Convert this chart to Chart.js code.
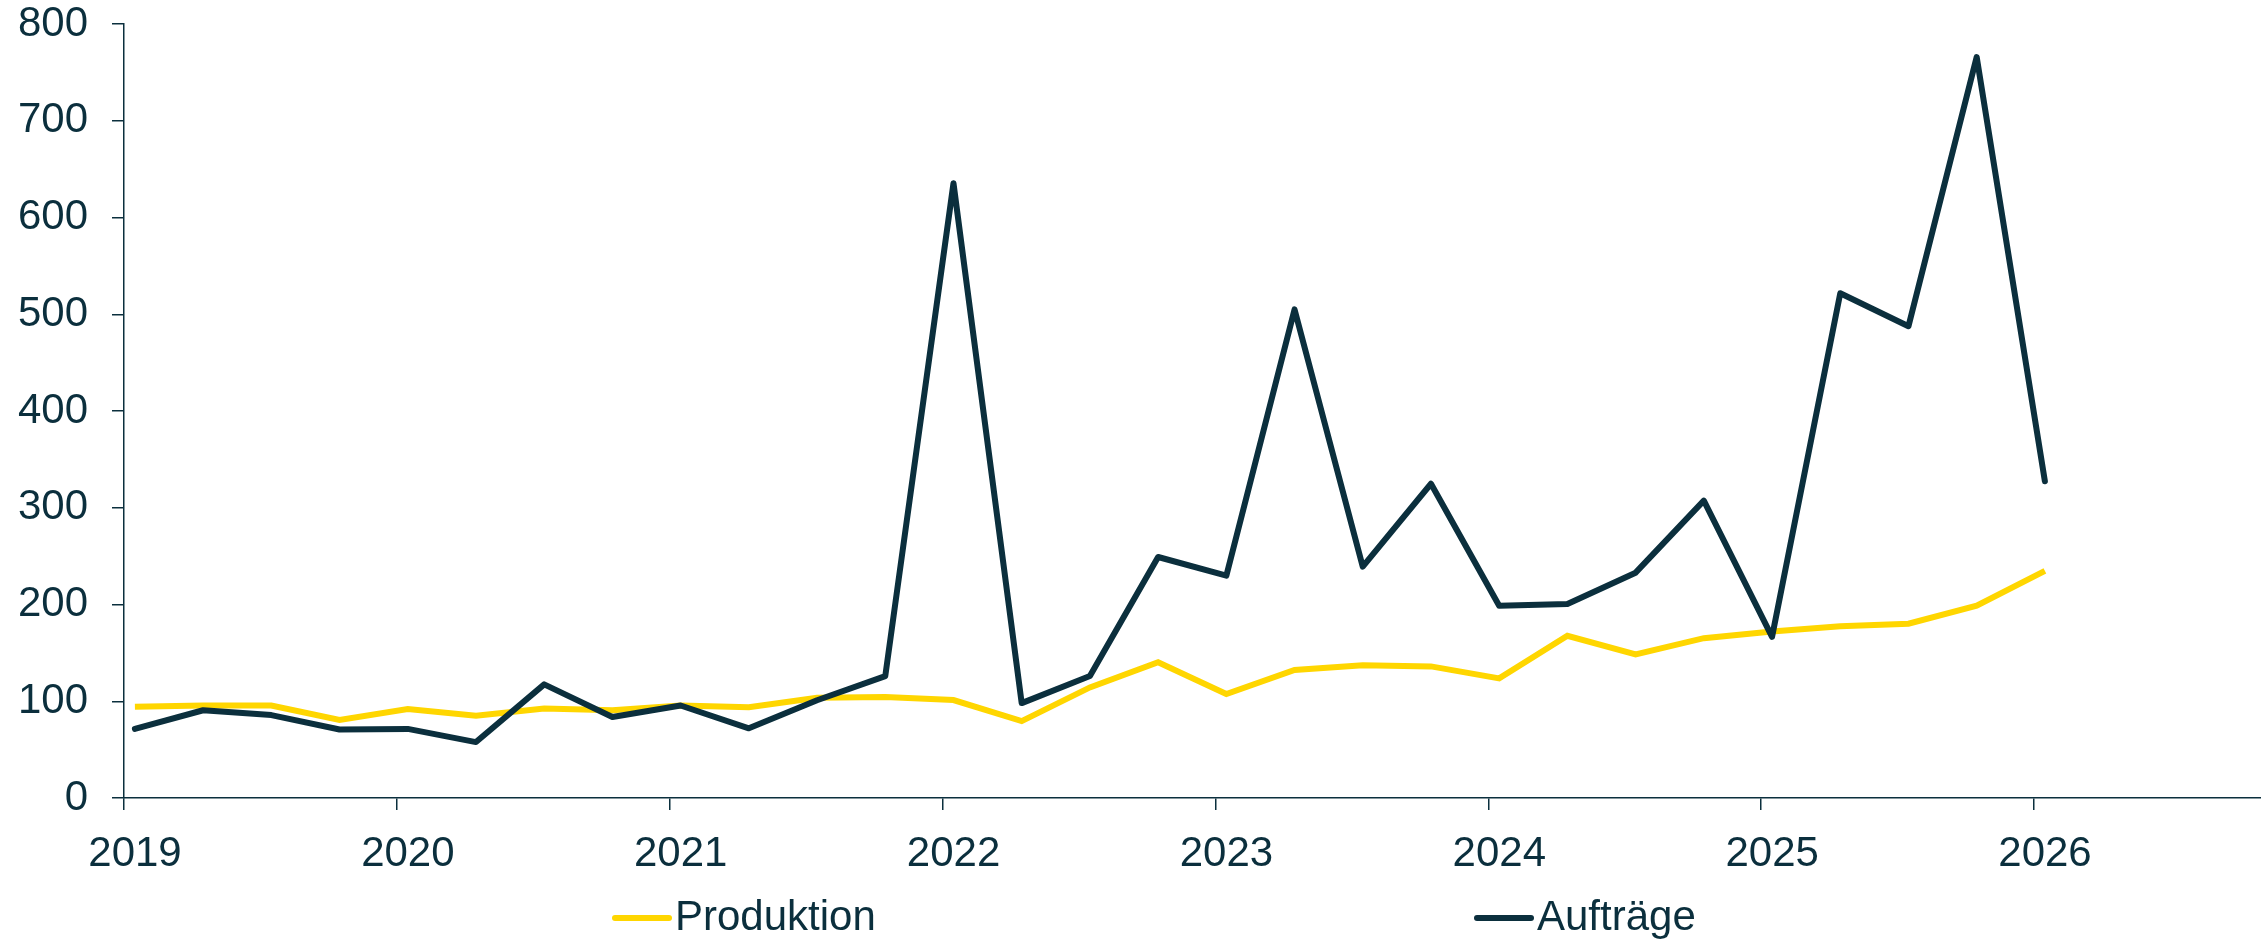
<!DOCTYPE html>
<html>
<head>
<meta charset="utf-8">
<script src="https://cdn.jsdelivr.net/npm/chart.js@4.4.1/dist/chart.umd.min.js"></script>
<style>
  html, body { margin: 0; padding: 0; background: #fff; }
  #wrap { width: 2261px; height: 941px; position: relative; }
</style>
</head>
<body>
<div id="wrap"><canvas id="canvas"></canvas></div>
<script>
// quarterly values, first quarter 2019 to first quarter 2026
var quarters = [
  '2019 Q1', '2019 Q2', '2019 Q3', '2019 Q4',
  '2020 Q1', '2020 Q2', '2020 Q3', '2020 Q4',
  '2021 Q1', '2021 Q2', '2021 Q3', '2021 Q4',
  '2022 Q1', '2022 Q2', '2022 Q3', '2022 Q4',
  '2023 Q1', '2023 Q2', '2023 Q3', '2023 Q4',
  '2024 Q1', '2024 Q2', '2024 Q3', '2024 Q4',
  '2025 Q1', '2025 Q2', '2025 Q3', '2025 Q4',
  '2026 Q1'
];
var produktion = [
  94.4, 95.6, 95.6, 80.7,
  91.9, 85.1, 92.5, 90.7,
  95.6, 93.8, 103.5, 104.3,
  101.2, 79.5, 114.3, 140.4,
  107.5, 132.3, 137.3, 136.0,
  123.6, 167.7, 148.4, 165.2,
  172.0, 177.6, 180.1, 198.8,
  234.8
];
var auftraege = [
  71.4, 90.7, 85.7, 70.8,
  71.4, 57.8, 117.4, 83.8,
  95.6, 72.0, 101.0, 126.0,
  635.4, 98.1, 126.1, 249.1,
  229.8, 505.0, 239.1, 324.8,
  198.8, 200.6, 232.9, 307.4,
  166.5, 521.7, 487.6, 765.8,
  327.3
];
var yearTicks = [2019, 2020, 2021, 2022, 2023, 2024, 2025, 2026];
var yTicks = [0, 100, 200, 300, 400, 500, 600, 700, 800];

var dark = '#0b2f3d';
var yellow = '#ffd600';
var font = "'Liberation Sans', Arial, sans-serif";

// quarter label -> decimal year (middle of the quarter's first month)
function toX(label) {
  var p = label.split(' Q');
  return Number(p[0]) + (Number(p[1]) - 1) / 4 + 0.04;
}

function points(values) {
  return values.map(function(v, i) { return {x: toX(quarters[i]), y: v}; });
}

var legendPlugin = {
  id: 'bottomLegend',
  afterDraw: function(chart, args, opts) {
    var ctx = chart.ctx;
    ctx.save();
    chart.data.datasets.forEach(function(ds, i) {
      var x = opts.xs[i];
      ctx.strokeStyle = ds.borderColor;
      ctx.lineWidth = 6;
      ctx.lineCap = 'round';
      ctx.beginPath();
      ctx.moveTo(x, opts.y);
      ctx.lineTo(x + 54, opts.y);
      ctx.stroke();
      ctx.fillStyle = dark;
      ctx.font = '42px ' + font;
      ctx.textBaseline = 'alphabetic';
      ctx.fillText(ds.label, x + 60, opts.y + 12);
    });
    ctx.restore();
  }
};

var ctx = document.getElementById('canvas').getContext('2d');

var lineChartData = {
  datasets: [{
    label: 'Produktion',
    data: points(produktion),
    borderColor: yellow,
    backgroundColor: yellow,
    borderWidth: 6,
    pointRadius: 0,
    tension: 0,
    fill: false,
    order: 1
  }, {
    label: 'Aufträge',
    data: points(auftraege),
    borderColor: dark,
    backgroundColor: dark,
    borderWidth: 6,
    pointRadius: 0,
    tension: 0,
    fill: false,
    borderCapStyle: 'round',
    borderJoinStyle: 'round',
    order: 0
  }]
};

var lineChartOptions = {
  responsive: true,
  maintainAspectRatio: false,
  animation: false,
  layout: { padding: { top: 24, right: 0, bottom: 70, left: 0 } },
  plugins: {
    legend: { display: false },
    tooltip: { enabled: false },
    bottomLegend: { xs: [615, 1477], y: 918 }
  },
  scales: {
    x: {
      type: 'linear',
      min: 2019,
      max: 2026.832,
      afterBuildTicks: function(scale) {
        scale.ticks = yearTicks.map(function(v) { return {value: v}; });
      },
      afterFit: function(scale) {
        scale.height = 73;
        scale.paddingRight = 0;
      },
      ticks: {
        color: dark,
        font: { family: font, size: 42 },
        padding: 19,
        labelOffset: 11,
        maxRotation: 0,
        autoSkip: false,
        callback: function(v) { return String(v); }
      },
      grid: { drawOnChartArea: false, drawTicks: true, tickLength: 12, color: dark, lineWidth: 1.5 },
      border: { display: true, color: dark, width: 1.5 }
    },
    y: {
      min: 0,
      max: 800,
      afterBuildTicks: function(scale) {
        scale.ticks = yTicks.map(function(v) { return {value: v}; });
      },
      afterFit: function(scale) {
        scale.width = 124;
        scale.paddingTop = 0;
        scale.paddingBottom = 0;
      },
      ticks: {
        color: dark,
        font: { family: font, size: 42 },
        padding: 24,
        callback: function(v) { return String(v); }
      },
      grid: { drawOnChartArea: false, drawTicks: true, tickLength: 12, color: dark, lineWidth: 1.5 },
      border: { display: true, color: dark, width: 1.5 }
    }
  }
};

var myChart = new Chart(ctx, {
  type: 'line',
  data: lineChartData,
  options: lineChartOptions,
  plugins: [legendPlugin]
});
</script>
</body>
</html>
